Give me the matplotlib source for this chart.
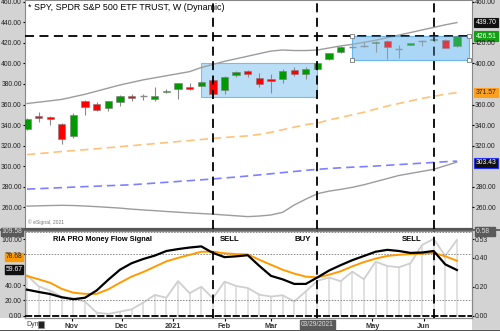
import numpy as np
import pandas as pd
import matplotlib
matplotlib.use("Agg")
import matplotlib.pyplot as plt
import matplotlib.dates as mdates
import matplotlib.transforms as mtrans
from matplotlib.patches import Rectangle

plt.rcParams['font.family'] = ['Liberation Sans', 'DejaVu Sans']

# weekly SPY bars, starting the week of 2020-10-05
weeks = pd.date_range("2020-10-05", periods=38, freq="7D")
opens = [336, 349, 348, 341, 329, 363, 361, 357, 362.5, 368, 368, 365, 372, 375, 377, 378.5,
         383.5, 374, 389, 393, 386, 385, 384.5, 393.5, 390, 394.5, 404, 411, 416, 417,
         419.5, 422, 414.2, 418, 422, 423, 423, 417]
highs = [347, 353, 349, 342, 352, 364, 362, 363.5, 369, 370, 370, 377.5, 375, 381, 380.5, 382.5,
         384, 388, 392.5, 394, 391, 390, 395, 396.5, 396.5, 400.5, 410.5, 416.5, 417, 421,
         422, 422.5, 418, 420, 423, 425, 424, 427]
lows = [335, 343, 340, 322, 327, 350, 354, 353.5, 358.5, 363.5, 364.5, 363.5, 371, 365, 374, 378,
        369, 370, 387, 387, 377, 371.5, 381, 388, 385, 394, 403.5, 410.5, 415, 416,
        411, 404, 405.5, 417.5, 417, 421, 414.5, 416]
closes = [346, 347, 346, 326, 350, 358, 355, 363, 368.5, 366, 368.4, 368, 373.5, 380.5, 375, 382,
          370, 387, 392, 390, 380, 383, 393, 389.5, 394.5, 400, 410.5, 416, 416.4, 417.4,
          421, 416, 414.5, 419.5, 422.3, 424, 415, 426.51]

# price overlays
upper_gray = [361, 362.3, 363.6, 365, 367.5, 370, 373, 376, 379, 381.5, 384, 386, 388, 390, 392, 396,
              399, 402, 404.5, 407, 409.5, 412, 413, 412.5, 412.5, 413, 415, 417, 418.5, 420.5,
              422.5, 425, 427.5, 430, 432.5, 435, 437.5, 439.7]
orange_ma = [311.3, 312.3, 313.3, 314.3, 315.2, 316.1, 317, 318, 319, 320, 321, 322, 323, 324, 325,
             326, 327, 328, 328.8, 329.5, 331, 333, 335.5, 338, 340.5, 342, 345, 347.5, 350, 352.5,
             355.5, 358.5, 361, 363.5, 366, 368, 370, 371.57]
blue_ma = [277.8, 278.2, 278.7, 279.2, 279.7, 280.2, 280.6, 281.1, 281.5, 282, 282.8, 283.6, 284.4,
           285.2, 286, 286.8, 287.6, 288.6, 289.5, 290.5, 291.6, 292.7, 293.8, 294.9, 296, 297,
           297.8, 298.5, 299.1, 299.6, 300.2, 300.9, 301.6, 302.3, 303, 303.7, 304.4, 305]
lower_gray = [261.2, 261.5, 261.8, 262, 261.8, 261.3, 260.7, 260, 259.3, 258.3, 257.5, 256.8, 256,
              255.3, 254.6, 254, 253.4, 252.6, 251.8, 251, 251.6, 252.6, 255.2, 262.3, 268, 273.3,
              275.8, 277.5, 279.5, 282, 285, 288, 291, 293, 295, 297, 300.5, 304]

# money flow panel
flow_black = [34, 31, 28.3, 24, 21.5, 23.5, 33, 47, 60, 68.5, 74, 78.5, 84.5, 87, 89, 90.5, 82,
              76.5, 77.5, 79, 65, 52, 47.5, 41.5, 41.5, 50, 59, 66, 72.5, 78, 83.5, 86, 84.5,
              82, 82.5, 84.5, 67, 59.67]
flow_orange = [52, 47.5, 43, 35, 30, 28.5, 28.5, 34.5, 43, 51, 57, 64, 71, 75.5, 79.5, 83.5, 83.6,
               81.5, 80.5, 80, 73, 66.5, 60, 55, 51, 50, 53.5, 58, 64.5, 70, 74.5, 78, 79.5, 80.5,
               81, 82, 77.5, 71.8]
flow_gray = [0.28, 0.205, 0.175, 0.133, 0.122, 0.099, 0.023, 0.014, 0.03, 0.046, 0.092, 0.145,
             0.126, 0.241, 0.157, 0.202, 0.122, 0.237, 0.207, 0.193, 0.147, 0.134, 0.143, 0.1,
             0.17, 0.243, 0.265, 0.24, 0.306, 0.253, 0.374, 0.345, 0.336, 0.363, 0.49, 0.531,
             0.414, 0.524]

signal_dates = ["2021-01-25", "2021-03-29", "2021-06-07"]
signal_names = ["SELL", "BUY", "SELL"]
zones = [("2021-01-18", "2021-03-29", 367.3, 400.4), ("2021-04-19", "2021-06-28", 403.3, 427.0)]
resistance = 426.2

month_ticks = ["2020-11-01", "2020-12-01", "2021-01-01", "2021-02-01", "2021-03-01",
               "2021-05-01", "2021-06-01"]
month_labels = ["Nov", "Dec", "2021", "Feb", "Mar", "May", "Jun"]

left_ticks = [260, 280, 300, 320, 340, 360, 380, 400, 420, 440, 460]
right_ticks = [260, 280, 320, 340, 360, 400, 420, 460]
flow_left_ticks = [0, 20, 40, 80, 100]
flow_right_ticks = [0, 0.2, 0.4, 0.53]

x = mdates.date2num(weeks)
day = 7.0
xmin = x[0] - 0.17 * day
xmax = x[0] + 38.3 * day

fig = plt.figure(figsize=(5, 3.31), dpi=100)
fig.patch.set_facecolor('#d3d3d3')

# bottom date strip, panel backgrounds and separator
fig.add_artist(Rectangle((0, 0), 472 / 500, 13 / 331, transform=fig.transFigure,
                         facecolor='white', edgecolor='none', zorder=-5))
fig.add_artist(Rectangle((25 / 500, 13 / 331), 447 / 500, 87 / 331, transform=fig.transFigure,
                         facecolor='white', edgecolor='none', zorder=-5))
fig.add_artist(Rectangle((0, 0), 1, 1.5 / 331, transform=fig.transFigure,
                         facecolor='#555555', edgecolor='none', zorder=-5))
fig.add_artist(Rectangle((0, 1 - 231 / 331), 1, 2 / 331, transform=fig.transFigure,
                         facecolor='#666666', edgecolor='none', zorder=-5))

ax = fig.add_axes([25 / 500, 1 - 229 / 331, 447 / 500, 229 / 331])
ax2 = fig.add_axes([25 / 500, 13 / 331, 447 / 500, 87 / 331])

tick_font = dict(labelsize=4.9, labelcolor='#222222')

# ---- price panel ----
ax.set_xlim(xmin, xmax)
ax.set_ylim(238.97, 461.65)
body_w = 4.4
for xi, o, h, l, c in zip(x, opens, highs, lows, closes):
    ax.vlines(xi, l, h, color='#8a8a8a', lw=0.8, zorder=3)
    if abs(c - o) < 0.6:
        ax.hlines((o + c) / 2, xi - body_w / 2, xi + body_w / 2, color='#8a8a8a', lw=1.0, zorder=3)
        continue
    col = '#009a00' if c > o else '#ff0000'
    ax.bar(xi, abs(c - o), bottom=min(o, c), width=body_w, color=col,
           edgecolor='#7a7a7a', linewidth=0.4, zorder=4)

ax.plot(x, upper_gray, color='#9c9c9c', lw=1.0, zorder=2)
ax.plot(x, lower_gray, color='#9c9c9c', lw=1.0, zorder=2)
ax.plot(x, orange_ma, color='#ffc27a', lw=1.2, dashes=(5, 3), zorder=2)
ax.plot(x, blue_ma, color='#7f7fff', lw=1.2, dashes=(5, 3), zorder=2)

ax.axhline(resistance, color='black', lw=1.3, dashes=(5, 3), zorder=5)
for d in signal_dates:
    ax.axvline(mdates.datestr2num(d), color='black', lw=1.3, dashes=(5, 3), zorder=5)

for k, (start, end, lo, hi) in enumerate(zones):
    s, e = mdates.datestr2num(start), mdates.datestr2num(end)
    ax.add_patch(Rectangle((s, lo), e - s, hi - lo, facecolor='#9fd0f5', alpha=0.7,
                           edgecolor='#4ea6e6', lw=0.8, zorder=1))
    if k == 1:
        # the selected drawing sits on top of its bars
        ax.add_patch(Rectangle((s, lo), e - s, hi - lo, facecolor='#8cc6f2', alpha=0.3,
                               edgecolor='#4ea6e6', lw=0.8, zorder=5.5))
s, e = mdates.datestr2num(zones[1][0]), mdates.datestr2num(zones[1][1])
ax.scatter([s, e, s, e], [zones[1][2], zones[1][2], zones[1][3], zones[1][3]], marker='s', s=9,
           facecolor='white', edgecolor='#777777', lw=0.6, zorder=6)

ax.set_xticks([])
ax.set_yticks(left_ticks)
ax.set_yticklabels(["%.2f" % v for v in left_ticks])
ax.tick_params(axis='y', length=1.5, pad=0.8, **tick_font)
for sp in ['top', 'left', 'right']:
    ax.spines[sp].set_color('#888888')
    ax.spines[sp].set_linewidth(0.8)
ax.spines['bottom'].set_color('#555555')
ax.spines['bottom'].set_linewidth(1.6)

axr = ax.twinx()
axr.set_ylim(ax.get_ylim())
axr.set_yticks(right_ticks)
axr.set_yticklabels(["%.2f" % v for v in right_ticks])
axr.tick_params(axis='y', length=1.5, pad=0.8, **tick_font)
for sp in axr.spines.values():
    sp.set_visible(False)

ax.text(3 / 447, 1 - 8 / 229, "* SPY, SPDR S&P 500 ETF TRUST, W (Dynamic)", transform=ax.transAxes,
        fontsize=6.4, color='black', va='center', ha='left')
ax.text(3 / 447, 7 / 229, "\u00a9 eSignal, 2021", transform=ax.transAxes, fontsize=3.6,
        color='#777777', va='center')

rtrans = mtrans.blended_transform_factory(ax.transAxes, ax.transData)
price_boxes = [(439.70, '#111111', 'white'), (426.51, '#11a011', 'white'),
               (371.57, '#ffa01c', '#222222'), (303.43, '#111111', 'white')]
for val, bg, fg in price_boxes:
    ax.text(1.008, val, "%.2f" % val, transform=rtrans, fontsize=4.9, color=fg, va='center',
            ha='left', bbox=dict(boxstyle='square,pad=0.2', facecolor=bg,
                                 edgecolor='#2233ff' if val < 310 else bg, lw=0.8), zorder=10,
            clip_on=False)

# ---- money flow panel ----
ax2r = ax2.twinx()
ax2.set_zorder(ax2r.get_zorder() + 1)
ax2.patch.set_visible(False)
ax2r.patch.set_visible(False)

ax2.set_xlim(xmin, xmax)
ax2.set_ylim(-3, 110.6)
ax2r.set_ylim(-0.0138, 0.586)

ax2r.plot(x, flow_gray, color='#cfcfcf', lw=1.3, zorder=2)
ax2r.vlines(x, 0, flow_gray, color='#d8d8d8', lw=1.1, zorder=1)

for v in [20, 80, 109.5]:
    ax2.axhline(v, color='#888888', lw=0.7, ls=(0, (1.5, 1.5)), zorder=1)
ax2.axhline(0, color='black', lw=1.3, ls=(0, (4, 1)), zorder=3)

ax2.plot(x, flow_orange, color='#ff9a00', lw=1.4, zorder=4)
ax2.plot(x, flow_black, color='black', lw=1.6, zorder=5)

for d in signal_dates:
    ax2.axvline(mdates.datestr2num(d), color='black', lw=1.3, dashes=(5, 3), zorder=6)
label_shift = [4, -14, -19]
for d, name, dx in zip(signal_dates, signal_names, label_shift):
    ax2.text(mdates.datestr2num(d) + dx, 100, name, fontsize=5.6, fontweight='bold',
             va='center', ha='left')
ax2.text(28 / 447, 100, "RIA PRO Money Flow Signal", transform=mtrans.blended_transform_factory(
    ax2.transAxes, ax2.transData), fontsize=5.3, fontweight='bold', va='center', ha='left')

ax2.set_yticks(flow_left_ticks)
ax2.set_yticklabels(["%.2f" % v for v in flow_left_ticks])
ax2.tick_params(axis='y', length=1.5, pad=0.8, **tick_font)
ax2r.set_yticks(flow_right_ticks)
ax2r.set_yticklabels(["%.2f" % v for v in flow_right_ticks])
ax2r.tick_params(axis='y', length=1.5, pad=0.8, **tick_font)

ax2.set_xticks([mdates.datestr2num(d) for d in month_ticks])
ax2.set_xticklabels(month_labels)
ax2.tick_params(axis='x', length=2, pad=1.5, labelsize=5.3, labelcolor='#333333')
for lab in ax2.get_xticklabels():
    lab.set_fontweight('bold')
for a in (ax2, ax2r):
    for sp in ['top', 'left', 'right', 'bottom']:
        a.spines[sp].set_color('#888888')
        a.spines[sp].set_linewidth(0.8)

ltrans = mtrans.blended_transform_factory(ax2.transAxes, ax2.transData)
flow_boxes = [("109.58", '#5a5a5a', '#dddddd', 109.5),
              ("78.68", '#ff9a00', '#222222', 77.0),
              ("59.67", '#111111', 'white', 60.3)]
for txt, bg, fg, ypos in flow_boxes:
    ax2.text(-0.006, ypos, txt, transform=ltrans, fontsize=4.9, color=fg, va='center', ha='right',
             bbox=dict(boxstyle='square,pad=0.1', facecolor=bg, edgecolor=bg), zorder=10,
             clip_on=False)
ax2.text(1.008, 109.5, "0.58   ", transform=ltrans, fontsize=4.9, color='#dddddd', va='center',
         ha='left', bbox=dict(boxstyle='square,pad=0.15', facecolor='#5a5a5a', edgecolor='#5a5a5a'),
         zorder=10, clip_on=False)

btrans = mtrans.blended_transform_factory(ax2.transData, ax2.transAxes)
ax2.text(mdates.datestr2num(signal_dates[1]), -0.075, "03/29/2021", transform=btrans, fontsize=4.8,
         color='#dddddd', ha='center', va='center',
         bbox=dict(boxstyle='square,pad=0.2', facecolor='#5a5a5a', edgecolor='#5a5a5a'),
         clip_on=False, zorder=10)

fig.text(26 / 500, 1 - 324 / 331, "Dyn", fontsize=5, color='#444444', va='center', ha='left')
fig.add_artist(Rectangle((38 / 500, 1 - 328 / 331), 6 / 500, 7 / 331, transform=fig.transFigure,
                         facecolor='#222222', edgecolor='#888888', lw=0.5))

fig.savefig("out.png", dpi=100, facecolor=fig.get_facecolor())
